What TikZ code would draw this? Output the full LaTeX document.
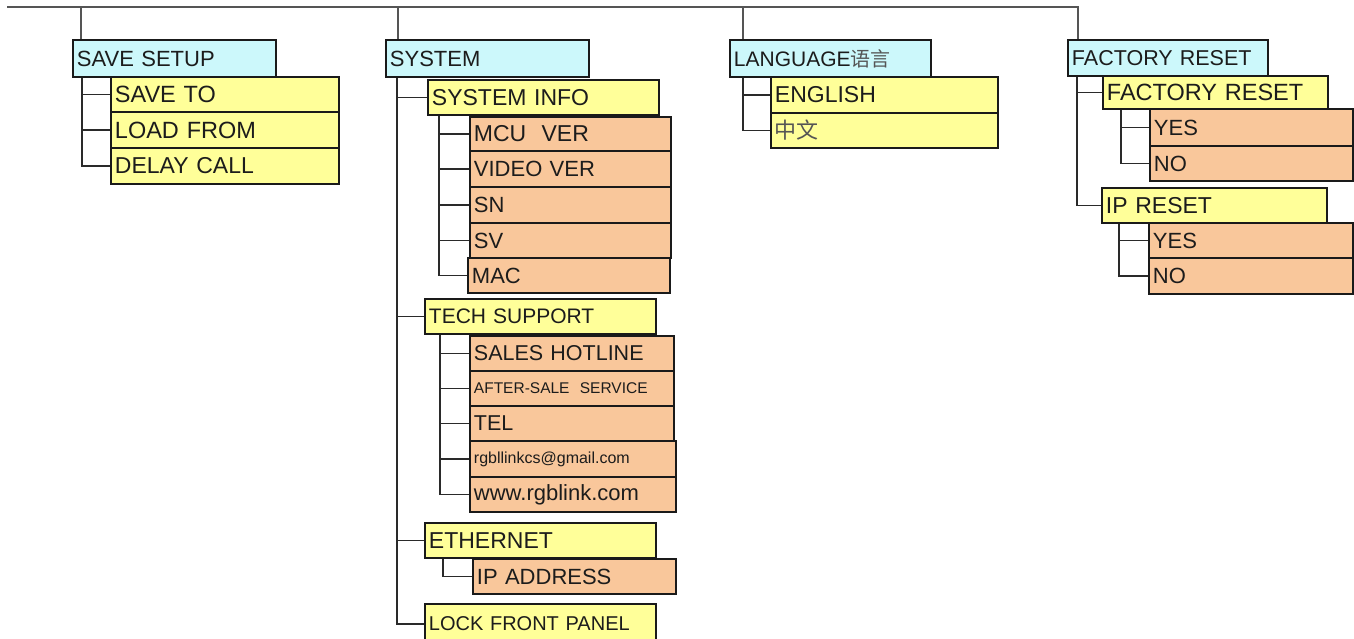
\documentclass[tikz,border=0pt]{standalone}
\usepackage{fontspec}
\setmainfont{Liberation Sans}
\newfontfamily\cjk{Noto Sans CJK SC}
\definecolor{cyf}{HTML}{CCF8FB}
\definecolor{ylf}{HTML}{FFFF99}
\definecolor{orf}{HTML}{F9C79B}
\definecolor{bd}{HTML}{1A1A1A}
\definecolor{ln}{HTML}{2A2A2A}
\definecolor{tx}{HTML}{1C1C1C}
\definecolor{zhc}{HTML}{555555}
\newcommand\bx[8]{\node[#2, fs=#8, text width=#5pt-8pt, minimum height=#6pt] (#1) at (#3,#4) {#7};}
\begin{document}
\begin{tikzpicture}[x=1pt,y=-1pt,
  fs/.style={font=\fontsize{#1}{#1}\selectfont},
  box/.style={draw=bd, line width=1.9pt, anchor=north west, inner xsep=4pt, inner ysep=0pt, text=tx, align=left},
  cy/.style={box, fill=cyf},
  yl/.style={box, fill=ylf},
  or/.style={box, fill=orf},
  conn/.style={draw=ln, line width=1.8pt},
  topl/.style={draw=ln!80, line width=1.5pt}]
\useasboundingbox (0,0) rectangle (1354,639);
\begin{scope}
\clip (0,0) rectangle (1354,639);
% column 1
\bx{ss}{cy}{72}{39}{203}{37}{SAVE SETUP}{22}
\bx{st}{yl}{110}{76}{228}{35}{SAVE TO}{23.5}
\bx{lf}{yl}{110}{111}{228}{36}{LOAD FROM}{23.5}
\bx{dc}{yl}{110}{147}{228}{36}{DELAY CALL}{23}
% column 2
\bx{sy}{cy}{385}{39}{203}{37}{SYSTEM}{22}
\bx{si}{yl}{427}{79}{231}{35}{SYSTEM INFO}{23}
\bx{mcu}{or}{469}{116}{201}{34}{MCU\ \ VER}{23}
\bx{vv}{or}{469}{150}{201}{36}{VIDEO VER}{22}
\bx{sn}{or}{469}{186}{201}{36}{SN}{22}
\bx{sv}{or}{469}{222}{201}{35}{SV}{22}
\bx{mac}{or}{467}{257}{202}{35}{MAC}{22}
\bx{ts}{yl}{424}{298}{231}{35}{TECH SUPPORT}{21}
\bx{sh}{or}{469}{335}{204}{35}{SALES HOTLINE}{21.5}
\bx{as}{or}{469}{370}{204}{35}{AFTER-SALE\ \ SERVICE}{15.5}
\bx{tel}{or}{469}{405}{204}{35}{TEL}{21.5}
\bx{em}{or}{469}{440}{206}{36}{rgbllinkcs@gmail.com}{16}
\bx{www}{or}{469}{476}{206}{35}{www.rgblink.com}{22}
\bx{eth}{yl}{424}{522}{231}{35}{ETHERNET}{23}
\bx{ip}{or}{472}{558}{203}{35}{IP ADDRESS}{22}
\bx{lfp}{yl}{424}{603}{231}{40}{LOCK FRONT PANEL}{20}
% column 3
\bx{lg}{cy}{729}{39}{201}{37}{LANGUAGE{\cjk\color{zhc}\fontsize{20}{20}\selectfont 语言}}{21}
\bx{en}{yl}{770}{76}{227}{36}{ENGLISH}{23}
\bx{zh}{yl}{770}{112}{227}{35}{{\cjk\color{zhc}中文}}{22}
% column 4
\bx{fr}{cy}{1067}{39}{200}{36}{FACTORY RESET}{21.5}
\bx{frr}{yl}{1102}{75}{225}{33}{FACTORY RESET}{23.5}
\bx{ya}{or}{1149}{108}{203}{37}{YES}{22}
\bx{na}{or}{1149}{145}{203}{35}{NO}{22}
\bx{ipr}{yl}{1101}{187}{225}{35}{IP RESET}{23}
\bx{yb}{or}{1148}{222}{204}{35}{YES}{22}
\bx{nb}{or}{1148}{257}{204}{36}{NO}{22}
\end{scope}
% top line
\coordinate (tl) at (7,7);
\draw[topl] ([xshift=9pt]ss.north west) |- (tl);
\draw[topl] ([xshift=13pt]sy.north west) |- (tl);
\draw[topl] ([xshift=14pt]lg.north west) |- (tl);
\draw[topl] ([xshift=11pt]fr.north west) |- (tl);
% trees
\foreach \c in {st,lf,dc} \draw[conn] ([xshift=10pt]ss.south west) |- (\c.west);
\foreach \c in {si,ts,eth,lfp} \draw[conn] ([xshift=12pt]sy.south west) |- (\c.west);
\foreach \c in {mcu,vv,sn,sv,mac} \draw[conn] ([xshift=12pt]si.south west) |- (\c.west);
\foreach \c in {sh,as,tel,em,www} \draw[conn] ([xshift=16pt]ts.south west) |- (\c.west);
\draw[conn] ([xshift=19pt]eth.south west) |- (ip.west);
\foreach \c in {en,zh} \draw[conn] ([xshift=14pt]lg.south west) |- (\c.west);
\foreach \c in {frr,ipr} \draw[conn] ([xshift=10pt]fr.south west) |- (\c.west);
\foreach \c in {ya,na} \draw[conn] ([xshift=19pt]frr.south west) |- (\c.west);
\foreach \c in {yb,nb} \draw[conn] ([xshift=18pt]ipr.south west) |- (\c.west);
\end{tikzpicture}
\end{document}
